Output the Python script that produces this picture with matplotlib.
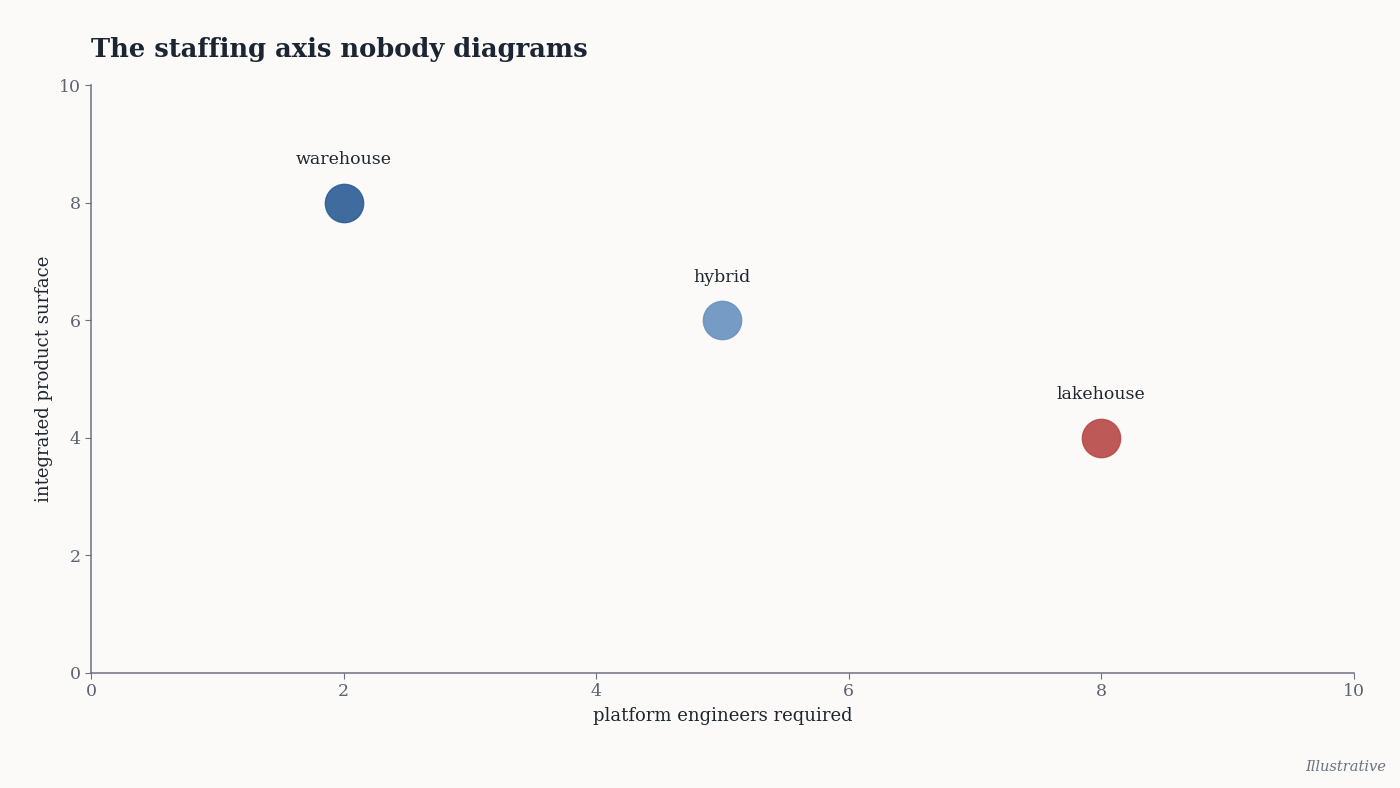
import matplotlib
matplotlib.use("Agg")
import matplotlib.pyplot as plt

names = ["warehouse", "hybrid", "lakehouse"]
engineers = [2, 5, 8]
surface = [8, 6, 4]
colors = ["#2f5f98", "#6b93c0", "#b84c4a"]
ticks = [0, 2, 4, 6, 8, 10]

plt.rcParams['font.family'] = ['DejaVu Serif']
bg = "#fbfaf8"
fig = plt.figure(figsize=(14, 7.88), dpi=100, facecolor=bg)
ax = fig.add_axes([0.065, 0.146, 0.902, 0.746], facecolor=bg)

for n, x, y, c in zip(names, engineers, surface, colors):
    ax.scatter([x], [y], s=760, color=c, alpha=0.92, edgecolors=c, linewidths=1, zorder=3)
    ax.annotate(n, (x, y), xytext=(0, 25), textcoords="offset points", ha="center",
                va="bottom", fontsize=12.5, color="#1f2630")

ax.set_xlim(0, 10)
ax.set_ylim(0, 10)
ax.set_xticks(ticks)
ax.set_yticks(ticks)
for s in ["top", "right"]:
    ax.spines[s].set_visible(False)
for s in ["left", "bottom"]:
    ax.spines[s].set_color("#6b7280")
    ax.spines[s].set_linewidth(1.1)
ax.tick_params(colors="#6b7280", labelsize=12.5, length=4, labelcolor="#5d6470")
ax.set_xlabel("platform engineers required", fontsize=13, color="#1f2630", labelpad=5)
ax.set_ylabel("integrated product surface", fontsize=13, color="#1f2630", labelpad=4)

fig.text(0.065, 0.937, "The staffing axis nobody diagrams", fontsize=18.5, fontweight="bold",
         color="#1c2633", ha="left", va="center")
fig.text(0.99, 0.027, "Illustrative", fontsize=10.5, style="italic", color="#6b7280",
         ha="right", va="center")

fig.savefig("out.png", dpi=100, facecolor=bg)
